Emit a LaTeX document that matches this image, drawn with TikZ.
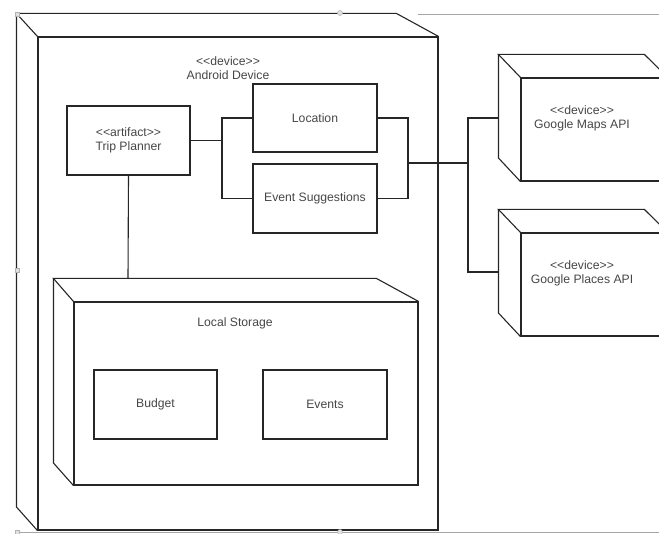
\documentclass[tikz,border=0pt]{standalone}
\usepackage{fontspec}
\setmainfont{Liberation Sans}
\newcommand{\stereo}[1]{<\kern0pt<#1>\kern0pt>}
\begin{document}
\begin{tikzpicture}[x=1pt,y=-1pt,
  line width=1.1pt,
  ln/.style={draw=black!85},
  box/.style={ln,rectangle,inner sep=0pt,fill=white,text=black!72,font=\fontsize{12.2}{14}\selectfont,align=center},
  lbl/.style={text=black!72,font=\fontsize{12.2}{14}\selectfont,align=center,inner sep=0pt},
  ui/.style={draw=black!35,line width=0.6pt},
  handle/.style={draw=black!30,fill=black!12,line width=0.5pt}]
\useasboundingbox (0,0) rectangle (659,534);
\begin{scope}
\clip (0,0) rectangle (659,534);
% UI selection artifacts
\draw[ui] (418,14) -- (659,14);
\draw[ui] (17,532.5) -- (659,532.5);
% Android Device node
\node[box,minimum width=400pt,minimum height=493pt] (android) at (238,283.5) {};
\draw[ln] (android.north west) -- ++(-21,-23) coordinate (aTL) -- ++(380,0) -- (android.north east);
\draw[ln] (aTL) -- (aTL |- 0,507) -- (android.south west);
\node[lbl] (androidlbl) at (228,68.5) {\stereo{device}\\[0pt]Android Device};
% Trip planner
\node[box,minimum width=123pt,minimum height=69pt] (tp) at (128.5,140.5) {\stereo{artifact}\\[0pt]Trip Planner};
% Location & Event Suggestions
\node[box,minimum width=124pt,minimum height=68pt] (loc) at (315,118) {Location};
\node[box,minimum width=124pt,minimum height=69pt] (es) at (315,198.5) {Event Suggestions};
% Local storage
\node[box,minimum width=344pt,minimum height=183pt] (ls) at (246,393.5) {};
\draw[ln] (ls.north west) -- ++(-20,-23) coordinate (lTL) -- ++(323,0) -- (ls.north east);
\draw[ln] (lTL) -- (lTL |- 0,463) -- (ls.south west);
\node[lbl] (lslbl) at (235,323) {Local Storage};
\node[box,minimum width=123pt,minimum height=69pt] (budget) at (155.5,404.5) {Budget};
\node[box,minimum width=124pt,minimum height=69pt] (events) at (325,404.5) {Events};
% Google Maps API
\node[box,minimum width=146pt,minimum height=103pt] (gm) at (594,129.5) {};
\draw[ln] (gm.north west) -- ++(-22,-23) coordinate (gmTL) -- ++(146,0) -- (gm.north east);
\draw[ln] (gmTL) -- (gmTL |- 0,158) -- (gm.south west);
\node[lbl] (gmlbl) at (582,118.5) {\stereo{device}\\[0pt]Google Maps API};
% Google Places API
\node[box,minimum width=146pt,minimum height=103pt] (gp) at (594,284.5) {};
\draw[ln] (gp.north west) -- ++(-22,-23) coordinate (gpTL) -- ++(146,0) -- (gp.north east);
\draw[ln] (gpTL) -- (gpTL |- 0,313) -- (gp.south west);
\node[lbl] (gplbl) at (582,273.5) {\stereo{device}\\[0pt]Google Places API};
% connectors
\coordinate (j1) at (222,140.5);
\coordinate (j2) at (408,163);
\coordinate (j3) at (468,163);
\coordinate (gmL) at (499,118);
\coordinate (gpL) at (499,272);
\coordinate (lsTop) at (128,279);
\draw[ln] (tp.east) -- (j1);
\draw[ln] (loc.west) -| (j1) |- (es.west);
\draw[ln] (loc.east) -| (j2) |- (es.east);
\draw[ln] (j2) -- (j3);
\draw[ln] (gmL) -| (j3) |- (gpL);
\draw[ln] (tp.south) -- (lsTop);
% handles
\foreach \p/\n in {{(17,14)}/h1,{(17,270)}/h2,{(17,532)}/h3}
  \node[handle,minimum size=4pt,inner sep=0pt] (\n) at \p {};
\foreach \p/\n in {{(340,13)}/h4,{(340,532)}/h5}
  \node[handle,circle,minimum size=5pt,inner sep=0pt] (\n) at \p {};
\end{scope}
\end{tikzpicture}
\end{document}
